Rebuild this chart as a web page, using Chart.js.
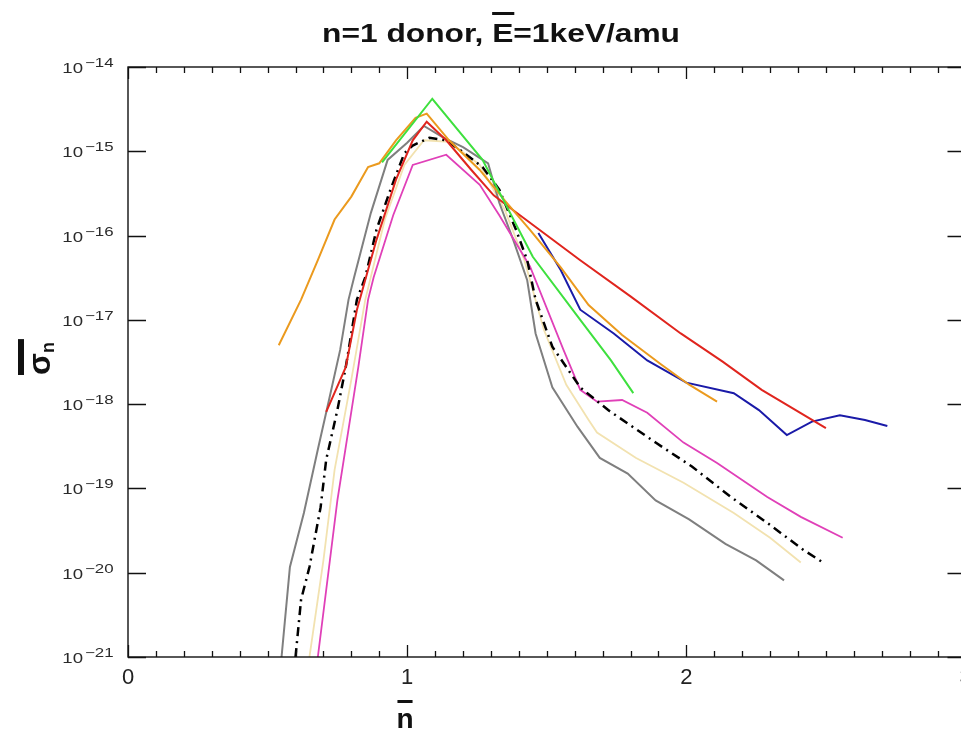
<!DOCTYPE html>
<html>
<head>
<meta charset="utf-8">
<script src="https://cdn.jsdelivr.net/npm/chart.js@4.4.1/dist/chart.umd.min.js"></script>
<style>
  html, body { margin: 0; padding: 0; background: #fff; overflow: hidden; }
  canvas { display: block; }
</style>
</head>
<body>
<canvas id="sigmaChart" width="990" height="730"></canvas>
<script>
// reduced cross sections sigma_n against reduced n, n=1 donor at 1 keV/amu
const greenN = [0.91, 1.09, 1.27, 1.45, 1.62, 1.73, 1.81];
const greenSigma = [7.4e-16, 4.2e-15, 7.9e-16, 5.6e-17, 1.0e-17, 3.3e-18, 1.35e-18];

const orangeN = [0.54, 0.62, 0.68, 0.74, 0.80, 0.86, 0.90, 0.96, 1.03, 1.07, 1.15, 1.26, 1.35, 1.44, 1.55, 1.65, 1.77, 1.91, 2.01, 2.11];
const orangeSigma = [5.0e-18, 1.74e-17, 5.1e-17, 1.55e-16, 2.9e-16, 6.5e-16, 7.2e-16, 1.35e-15, 2.5e-15, 2.8e-15, 1.35e-15, 6.0e-16, 2.6e-16, 1.17e-16, 4.2e-17, 1.5e-17, 6.6e-18, 2.95e-18, 1.7e-18, 1.07e-18];

const redN = [0.71, 0.78, 0.82, 0.89, 0.96, 1.02, 1.07, 1.14, 1.23, 1.31, 1.38, 1.62, 1.80, 1.98, 2.13, 2.27, 2.50];
const redSigma = [8.1e-19, 2.75e-18, 1.32e-17, 8.9e-17, 4.6e-16, 1.35e-15, 2.24e-15, 1.35e-15, 6.0e-16, 3.0e-16, 2.0e-16, 5.1e-17, 1.9e-17, 6.9e-18, 3.2e-18, 1.48e-18, 5.2e-19];

const blueN = [1.47, 1.55, 1.62, 1.74, 1.86, 2.00, 2.17, 2.26, 2.36, 2.45, 2.55, 2.64, 2.72];
const blueSigma = [1.07e-16, 3.9e-17, 1.32e-17, 6.9e-18, 3.3e-18, 1.8e-18, 1.35e-18, 8.5e-19, 4.3e-19, 6.2e-19, 7.4e-19, 6.5e-19, 5.5e-19];

const blackN = [0.60, 0.62, 0.65, 0.69, 0.71, 0.75, 0.78, 0.82, 0.85, 0.89, 0.94, 0.99, 1.02, 1.08, 1.14, 1.20, 1.27, 1.33, 1.39, 1.43, 1.46, 1.52, 1.62, 1.72, 1.89, 2.02, 2.16, 2.29, 2.42, 2.49];
const blackSigma = [1e-21, 4.8e-21, 1.17e-20, 6.0e-20, 2.2e-19, 8.5e-19, 2.75e-18, 1.74e-17, 3.2e-17, 1.17e-16, 3.5e-16, 9.5e-16, 1.17e-15, 1.45e-15, 1.35e-15, 9.8e-16, 6.5e-16, 3.5e-16, 1.17e-16, 5.1e-17, 1.74e-17, 4.8e-18, 1.58e-18, 8.5e-19, 3.5e-19, 1.82e-19, 7.9e-20, 3.9e-20, 1.86e-20, 1.32e-20];

const magentaN = [0.68, 0.75, 0.825, 0.86, 0.88, 0.95, 1.02, 1.14, 1.26, 1.33, 1.44, 1.56, 1.62, 1.68, 1.77, 1.86, 1.99, 2.11, 2.29, 2.41, 2.56];
const magentaSigma = [1e-21, 7.2e-20, 2.75e-18, 1.74e-17, 3.2e-17, 1.74e-16, 6.9e-16, 9.1e-16, 4.0e-16, 1.74e-16, 4.3e-17, 4.4e-18, 1.48e-18, 1.07e-18, 1.12e-18, 7.9e-19, 3.5e-19, 2.0e-19, 7.9e-20, 4.6e-20, 2.6e-20];

const greyN = [0.55, 0.58, 0.63, 0.68, 0.72, 0.76, 0.79, 0.81, 0.87, 0.93, 1.00, 1.06, 1.13, 1.20, 1.29, 1.33, 1.38, 1.43, 1.46, 1.52, 1.61, 1.69, 1.79, 1.89, 2.01, 2.14, 2.25, 2.35];
const greySigma = [1e-21, 1.17e-20, 5.1e-20, 2.9e-19, 1.12e-18, 4.4e-18, 1.74e-17, 3.2e-17, 1.86e-16, 7.9e-16, 1.26e-15, 2.0e-15, 1.45e-15, 1.12e-15, 7.2e-16, 2.45e-16, 8.9e-17, 2.95e-17, 6.9e-18, 1.58e-18, 5.4e-19, 2.3e-19, 1.5e-19, 7.2e-20, 4.3e-20, 2.2e-20, 1.4e-20, 8.1e-21];

const paleN = [0.65, 0.70, 0.74, 0.80, 0.85, 0.92, 0.99, 1.06, 1.15, 1.26, 1.35, 1.42, 1.49, 1.57, 1.65, 1.68, 1.82, 1.99, 2.17, 2.30, 2.41];
const paleSigma = [1e-21, 1.4e-20, 1.66e-19, 1.95e-18, 1.74e-17, 1.55e-16, 6.9e-16, 1.35e-15, 1.29e-15, 6.9e-16, 2.0e-16, 5.1e-17, 7.6e-18, 1.7e-18, 6.5e-19, 4.6e-19, 2.3e-19, 1.17e-19, 5.1e-20, 2.6e-20, 1.32e-20];

const xTickLabels = ['0', '1', '2', '3'];

function pts(xs, ys) {
  return xs.map((x, i) => ({ x: x, y: ys[i] }));
}

function curve(xs, ys, color, width, dash) {
  return {
    data: pts(xs, ys),
    borderColor: color,
    borderWidth: width,
    borderDash: dash || [],
    pointRadius: 0,
    tension: 0,
    fill: false
  };
}

// first dataset ends up on top
const datasets = [
  curve(greenN, greenSigma, '#3ee03e', 2),
  curve(orangeN, orangeSigma, '#eb9a1e', 2),
  curve(redN, redSigma, '#e0251e', 2),
  curve(blueN, blueSigma, '#1a1aa8', 2),
  curve(blackN, blackSigma, '#000000', 2.5, [9, 5, 2, 5]),
  curve(magentaN, magentaSigma, '#e040b8', 1.8),
  curve(greyN, greySigma, '#7f7f7f', 2),
  curve(paleN, paleSigma, '#f2e2b0', 1.8)
];

const FONT = '"Liberation Sans", Arial, sans-serif';

function stretchText(ctx, text, x, y, font, sx, align) {
  ctx.save();
  ctx.font = font;
  ctx.textAlign = align;
  ctx.textBaseline = 'alphabetic';
  ctx.translate(x, y);
  ctx.scale(sx, 1);
  ctx.fillText(text, 0, 0);
  ctx.restore();
}

const framePlugin = {
  id: 'frame',
  afterDraw(chart) {
    const ctx = chart.ctx;
    const a = chart.chartArea;
    const xs = chart.scales.x;
    const ys = chart.scales.y;
    ctx.save();
    ctx.strokeStyle = '#111';
    ctx.lineWidth = 1.4;
    ctx.strokeRect(a.left, a.top, a.right - a.left, a.bottom - a.top);

    // inward ticks on bottom and top
    ctx.lineWidth = 1.3;
    xs.ticks.forEach(t => {
      const px = Math.round(xs.getPixelForValue(t.value)) + 0.5;
      const major = Math.abs(t.value - Math.round(t.value)) < 1e-6;
      const len = major ? 12 : 6;
      ctx.beginPath();
      ctx.moveTo(px, a.bottom); ctx.lineTo(px, a.bottom - len);
      ctx.moveTo(px, a.top); ctx.lineTo(px, a.top + len);
      ctx.stroke();
    });

    // decade ticks and labels on the log axis
    ctx.fillStyle = '#2a2a2a';
    ys.ticks.forEach(t => {
      const lg = Math.log10(t.value);
      if (Math.abs(lg - Math.round(lg)) > 1e-6) return;
      const py = Math.round(ys.getPixelForValue(t.value)) + 0.5;
      ctx.beginPath();
      ctx.moveTo(a.left, py); ctx.lineTo(a.left + 18, py);
      ctx.moveTo(a.right, py); ctx.lineTo(a.right - 18, py);
      ctx.stroke();
      stretchText(ctx, '10', 83, py + 5.5, '15.5px ' + FONT, 1.2, 'right');
      stretchText(ctx, '\u2212' + Math.abs(Math.round(lg)), 85, py - 0.5, '12.5px ' + FONT, 1.35, 'left');
    });

    // title with barred E
    ctx.fillStyle = '#111';
    const tFont = 'bold 25px ' + FONT;
    ctx.font = tFont;
    const pre = 'n=1 donor, ';
    const full = pre + 'E=1keV/amu';
    const w = ctx.measureText(full).width;
    const sx = 358 / w;
    const x0 = 501 - 179;
    stretchText(ctx, full, x0, 42, tFont, sx, 'left');
    const ex = x0 + ctx.measureText(pre).width * sx;
    const ew = ctx.measureText('E').width * sx;
    ctx.fillRect(ex, 12, ew + 1, 3);

    // x axis title: n with bar
    const nFont = 'bold 28px ' + FONT;
    ctx.font = nFont;
    const nw = ctx.measureText('n').width;
    stretchText(ctx, 'n', 405, 728, nFont, 1.0, 'center');
    ctx.fillRect(405 - nw / 2 + 1, 700, nw - 2, 3);

    // y axis title: sigma_n with bar, rotated
    ctx.save();
    ctx.translate(50, 375);
    ctx.rotate(-Math.PI / 2);
    ctx.font = 'bold 32px ' + FONT;
    ctx.textAlign = 'left';
    ctx.fillText('\u03c3', 0, 0);
    const sw = ctx.measureText('\u03c3').width;
    ctx.font = 'bold 18px ' + FONT;
    ctx.fillText('n', sw, 4);
    const nw2 = ctx.measureText('n').width;
    ctx.fillRect(0, -32, sw + nw2 + 3, 6);
    ctx.restore();

    ctx.restore();
  }
};

new Chart(document.getElementById('sigmaChart'), {
  type: 'line',
  data: { datasets: datasets },
  options: {
    responsive: false,
    animation: false,
    layout: { padding: { top: 67, right: 24.5, left: 0, bottom: 0 } },
    plugins: { legend: { display: false }, tooltip: { enabled: false }, title: { display: false } },
    scales: {
      x: {
        type: 'linear',
        min: 0,
        max: 3,
        grid: { display: false, drawTicks: false },
        border: { display: false },
        ticks: {
          stepSize: 0.1,
          autoSkip: false,
          maxRotation: 0,
          padding: 8,
          color: '#222',
          font: { family: FONT, size: 22 },
          callback: v => {
            const r = Math.round(v);
            return Math.abs(v - r) < 1e-6 ? xTickLabels[r] : '';
          }
        },
        afterFit: s => { s.height = 73; }
      },
      y: {
        type: 'logarithmic',
        min: 1e-21,
        max: 1e-14,
        grid: { display: false, drawTicks: false },
        border: { display: false },
        ticks: { display: false },
        afterFit: s => { s.width = 128; }
      }
    }
  },
  plugins: [framePlugin]
});
</script>
</body>
</html>
